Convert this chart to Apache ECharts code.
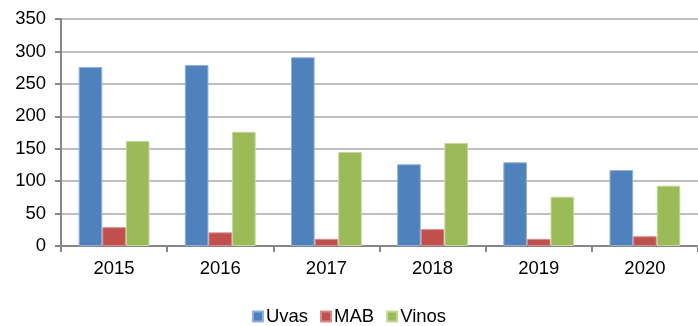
<!DOCTYPE html>
<html>
<head>
<meta charset="utf-8">
<script src="https://cdn.jsdelivr.net/npm/echarts@6/dist/echarts.min.js"></script>
<style>
  html, body { margin: 0; padding: 0; background: #fff; }
  #chart { width: 698px; height: 326px; }
</style>
</head>
<body>
<div id="chart"></div>
<script>
// Years on the category axis
const years = ['2015', '2016', '2017', '2018', '2019', '2020'];
// Series values per year
const uvas = [276, 279, 291, 126, 129, 117];
const mab = [29, 21, 11, 26, 11, 15];
const vinos = [162, 176, 145, 159, 76, 93];
// Value axis range
const yMin = 0, yMax = 350, yStep = 50;

const font = 'Liberation Sans, Arial, sans-serif';
const fs = 18.5;
const chart = echarts.init(document.getElementById('chart'), null, { renderer: 'canvas' });

function bar(name, data, color, edge) {
  return {
    name, type: 'bar', data,
    barGap: '0%', barCategoryGap: '33.3%',
    itemStyle: { color, borderColor: edge, borderWidth: 1 },
    emphasis: { disabled: true },
    animation: false
  };
}

chart.setOption({
  animation: false,
  grid: { left: 61, right: -11, top: 19, bottom: 80, containLabel: false },
  legend: {
    bottom: -5, left: 'center',
    itemWidth: 10, itemHeight: 10, itemGap: 12,
    icon: 'rect',
    textStyle: { fontFamily: font, fontSize: fs, color: '#000', padding: [0, 0, 0, -2] },
    data: ['Uvas', 'MAB', 'Vinos']
  },
  xAxis: {
    type: 'category', data: years,
    axisLine: { lineStyle: { color: '#868686', width: 2 } },
    axisTick: { show: true, length: 6, lineStyle: { color: '#868686', width: 2 } },
    axisLabel: { fontFamily: font, fontSize: fs, color: '#000', margin: 13 }
  },
  yAxis: {
    type: 'value', min: yMin, max: yMax, interval: yStep,
    axisLine: { show: true, lineStyle: { color: '#868686', width: 2 } },
    axisTick: { show: true, length: 6, lineStyle: { color: '#868686', width: 2 } },
    splitLine: { lineStyle: { color: '#bebebe', width: 2 } },
    axisLabel: { fontFamily: font, fontSize: fs, color: '#000', margin: 15 }
  },
  series: [
    bar('Uvas', uvas, '#4f81bd', '#8fb0db'),
    bar('MAB', mab, '#c0504d', '#d88a88'),
    bar('Vinos', vinos, '#9bbb59', '#c3d99a')
  ]
});
</script>
</body>
</html>
